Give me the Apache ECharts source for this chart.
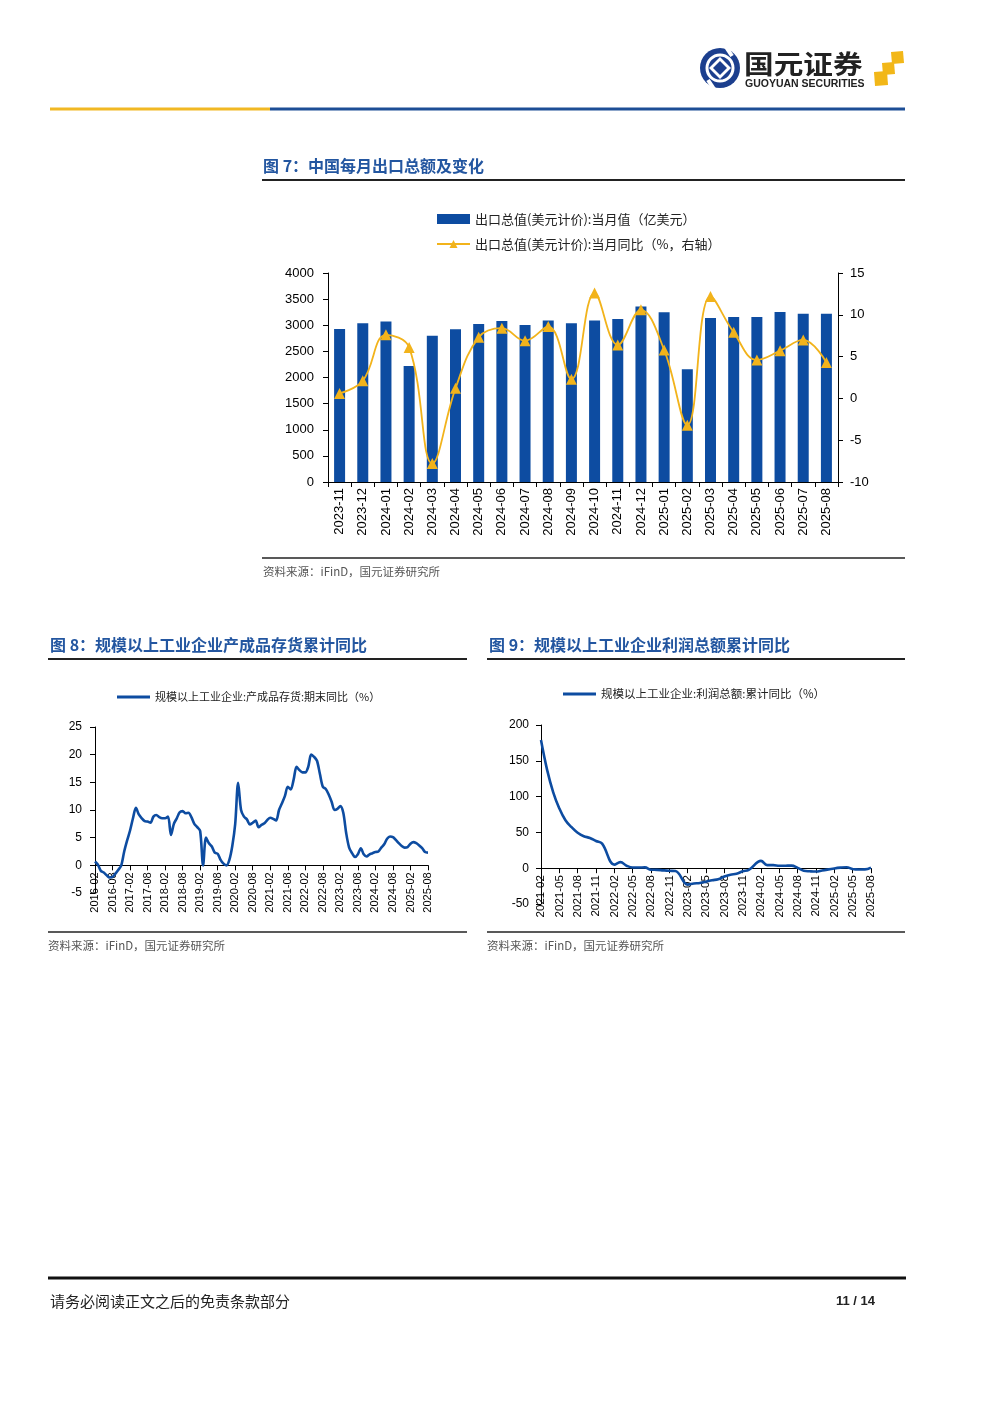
<!DOCTYPE html>
<html>
<head>
<meta charset="utf-8">
<script src="https://cdn.jsdelivr.net/npm/echarts@6.0.0/dist/echarts.min.js"></script>
<style>
html,body{margin:0;padding:0;background:#fff;}
#c{width:1000px;height:1414px;}
</style>
</head>
<body>
<div id="c"></div>
<script>
// ---------- Figure 7 data ----------
const cats7 = ['2023-11','2023-12','2024-01','2024-02','2024-03','2024-04','2024-05','2024-06','2024-07','2024-08','2024-09','2024-10','2024-11','2024-12','2025-01','2025-02','2025-03','2025-04','2025-05','2025-06','2025-07','2025-08'];
const exportValue = [2930,3040,3070,2220,2800,2925,3025,3080,3005,3090,3040,3092,3120,3360,3250,2158,3137,3156,3160,3252,3220,3220];
const exportYoY = [0.6,2.1,7.6,6.1,-7.8,1.2,7.3,8.4,6.9,8.6,2.3,12.6,6.4,10.6,5.8,-3.2,12.2,7.9,4.6,5.7,7.0,4.3];
const ticks7Left = [0,500,1000,1500,2000,2500,3000,3500,4000];
const ticks7Right = [-10,-5,0,5,10,15];

// ---------- Figure 8 data ----------
function monthRange(start, end){
  const out = [];
  let [y, m] = start.split('-').map(Number);
  const [ey, em] = end.split('-').map(Number);
  while (y < ey || (y === ey && m <= em)) {
    out.push(y + '-' + String(m).padStart(2,'0'));
    m++; if (m > 12) { m = 1; y++; }
  }
  return out;
}
const cats8 = monthRange('2016-02','2025-08');
const inventoryYoY = [
  0.7,0.1,-1.0,-1.3,-1.8,-2.2,-2.1,-1.5,-0.8,0.0,2.5,4.5,
  6.3,8.5,10.4,9.2,8.5,8.0,7.9,7.7,8.8,9.1,8.7,8.5,
  8.5,8.8,5.5,7.5,8.5,9.6,9.8,9.4,9.5,8.7,7.5,6.9,
  6.2,0.0,5.0,4.0,3.4,2.3,2.1,1.0,0.3,0.0,1.0,3.5,
  7.5,14.9,10.0,8.8,8.3,7.4,7.7,8.1,6.9,7.3,7.6,8.2,
  8.6,8.4,8.1,10.0,11.2,12.5,14.2,13.7,15.5,17.8,17.2,16.8,
  16.8,17.8,20.0,19.6,18.9,16.5,14.2,13.8,12.8,11.5,10.0,10.2,
  10.7,9.5,5.8,3.2,2.2,1.5,2.0,3.1,2.0,1.6,2.0,2.2,
  2.4,2.5,3.2,3.8,4.8,5.2,5.1,4.6,4.0,3.5,3.2,3.3,
  3.9,4.2,4.0,3.6,3.1,2.4,2.3
];
const ticks8 = [-5,0,5,10,15,20,25];

// ---------- Figure 9 data ----------
const cats9 = monthRange('2021-02','2025-08');
const profitYoY = [
  178.9,137.3,106.0,83.4,66.9,57.3,49.5,44.7,42.2,38.0,34.3,
  null,5.0,8.5,3.5,1.0,1.0,1.1,-2.1,-2.3,-3.0,-3.6,-4.0,
  null,-22.9,-21.4,-20.6,-18.8,-16.8,-15.5,-11.7,-9.0,-7.8,-4.4,-2.3,
  null,10.2,4.3,4.3,3.4,3.5,3.6,0.5,-3.5,-4.3,-4.7,-3.3,
  null,-0.3,0.8,1.4,-1.1,-1.8,-1.7,0.9
];
const ticks9 = [-50,0,50,100,150,200];

const BLUE = '#0d4ca1';
const GOLD = '#f2b31b';
const TITLE = '#2356a0';
const CJK = '"Noto Sans CJK SC", "Noto Sans", sans-serif';
const NUM = '"Liberation Sans", Arial, sans-serif';

// grid layouts
const G7 = {left:328, top:273, width:510, height:209};
const G8 = {left:95, top:727, width:333, height:166};
const G9 = {left:541, top:725, width:330, height:179};
// distance from grid bottom up to the zero line (so the category axis sits on zero)
const zeroOffset8 = G8.height * (0 - ticks8[0]) / (ticks8[ticks8.length-1] - ticks8[0]);
const zeroOffset9 = G9.height * (0 - ticks9[0]) / (ticks9[ticks9.length-1] - ticks9[0]);

function axisCommon(){
  return {
    axisLine:{show:true,lineStyle:{color:'#000',width:1}},
    axisTick:{show:true,length:5,lineStyle:{color:'#000'}},
    splitLine:{show:false}
  };
}
const plain = v => String(v);

const chart = echarts.init(document.getElementById('c'), null, {renderer:'canvas'});

const graphic = [
  // header lines
  {type:'line', shape:{x1:50,y1:109,x2:270,y2:109}, style:{stroke:'#f1b823',lineWidth:3}},
  {type:'line', shape:{x1:270,y1:109,x2:905,y2:109}, style:{stroke:'#1d4e96',lineWidth:3}},
  // logo icon
  {type:'circle', shape:{cx:720,cy:68,r:20}, style:{fill:'#1c3f8e'}},
  {type:'circle', shape:{cx:720,cy:68,r:13}, style:{fill:'none',stroke:'#fff',lineWidth:3}},
  {type:'line', shape:{x1:726,y1:47,x2:732,y2:56}, style:{stroke:'#fff',lineWidth:4}},
  {type:'line', shape:{x1:708,y1:80,x2:714,y2:89}, style:{stroke:'#fff',lineWidth:4}},
  {type:'polygon', shape:{points:[[720,57],[731,68],[720,79],[709,68]]}, style:{fill:'#fff'}},
  {type:'polygon', shape:{points:[[720,61],[727,68],[720,75],[713,68]]}, style:{fill:'#1c3f8e'}},
  {type:'text', x:744, y:64, scaleX:1.14, style:{text:'国元证券', font:'bold 26px '+CJK, fill:'#222', verticalAlign:'middle'}},
  {type:'text', x:745, y:84, style:{text:'GUOYUAN SECURITIES', font:'bold 10.5px '+NUM, fill:'#222', verticalAlign:'middle'}},
  {type:'polygon', shape:{points:[[891,52],[903,51],[904,63],[892,64]]}, style:{fill:'#f2b718'}},
  {type:'polygon', shape:{points:[[882,63],[894,62],[895,74],[883,75]]}, style:{fill:'#f2b718'}},
  {type:'polygon', shape:{points:[[874,72],[887,71],[888,85],[875,86]]}, style:{fill:'#f2b718'}},

  // Figure 7
  {type:'text', x:263, y:166, style:{text:'图 7：中国每月出口总额及变化', font:'bold 16px '+CJK, fill:TITLE, verticalAlign:'middle'}},
  {type:'line', shape:{x1:262,y1:180,x2:905,y2:180}, style:{stroke:'#222',lineWidth:2}},
  {type:'line', shape:{x1:262,y1:558,x2:905,y2:558}, style:{stroke:'#222',lineWidth:1.5}},
  {type:'text', x:263, y:572, style:{text:'资料来源：iFinD，国元证券研究所', font:'11.5px '+CJK, fill:'#555', verticalAlign:'middle'}},

  // Figure 8
  {type:'text', x:50, y:645, style:{text:'图 8：规模以上工业企业产成品存货累计同比', font:'bold 16px '+CJK, fill:TITLE, verticalAlign:'middle'}},
  {type:'line', shape:{x1:48,y1:659,x2:467,y2:659}, style:{stroke:'#222',lineWidth:2}},
  {type:'line', shape:{x1:48,y1:932,x2:467,y2:932}, style:{stroke:'#222',lineWidth:1.5}},
  {type:'text', x:48, y:946, style:{text:'资料来源：iFinD，国元证券研究所', font:'11.5px '+CJK, fill:'#555', verticalAlign:'middle'}},

  // Figure 9
  {type:'text', x:489, y:645, style:{text:'图 9：规模以上工业企业利润总额累计同比', font:'bold 16px '+CJK, fill:TITLE, verticalAlign:'middle'}},
  {type:'line', shape:{x1:487,y1:659,x2:905,y2:659}, style:{stroke:'#222',lineWidth:2}},
  {type:'line', shape:{x1:487,y1:932,x2:905,y2:932}, style:{stroke:'#222',lineWidth:1.5}},
  {type:'text', x:487, y:946, style:{text:'资料来源：iFinD，国元证券研究所', font:'11.5px '+CJK, fill:'#555', verticalAlign:'middle'}},

  // footer
  {type:'line', shape:{x1:48,y1:1278,x2:906,y2:1278}, style:{stroke:'#111',lineWidth:3}},
  {type:'text', x:50, y:1301, style:{text:'请务必阅读正文之后的免责条款部分', font:'15px '+CJK, fill:'#222', verticalAlign:'middle'}},
  {type:'text', x:875, y:1301, style:{text:'11 / 14', font:'bold 13px '+NUM, fill:'#222', verticalAlign:'middle', align:'right'}}
];

const option = {
  animation:false,
  backgroundColor:'#fff',
  graphic: graphic,
  legend:[
    {
      orient:'vertical', left:436, top:212, padding:0, itemGap:11,
      itemWidth:33, itemHeight:10,
      data:[
        {name:'出口总值(美元计价):当月值（亿美元）', icon:'rect'},
        {name:'出口总值(美元计价):当月同比（%，右轴）'}
      ],
      textStyle:{fontSize:13, fontFamily:CJK, color:'#222', lineHeight:14}
    },
    {
      left:117, top:690, padding:0, itemWidth:33, itemHeight:3,
      data:[{name:'规模以上工业企业:产成品存货:期末同比（%）', icon:'rect'}],
      textStyle:{fontSize:11, fontFamily:CJK, color:'#222', lineHeight:14}
    },
    {
      left:563, top:687, padding:0, itemWidth:33, itemHeight:3,
      data:[{name:'规模以上工业企业:利润总额:累计同比（%）', icon:'rect'}],
      textStyle:{fontSize:11.5, fontFamily:CJK, color:'#222', lineHeight:14}
    }
  ],
  grid:[G7, G8, G9],
  xAxis:[
    Object.assign(axisCommon(), {
      gridIndex:0, type:'category', data:cats7,
      axisLabel:{rotate:90, margin:6, fontSize:13, color:'#000', fontFamily:NUM, interval:0}
    }),
    Object.assign(axisCommon(), {
      gridIndex:1, type:'category', data:cats8, boundaryGap:false,
      offset:-zeroOffset8,
      axisLine:{show:true, onZero:false, lineStyle:{color:'#000',width:1}},
      axisTick:{show:true, length:5, interval:5, lineStyle:{color:'#000'}},
      axisLabel:{rotate:90, margin:7, fontSize:11, color:'#000', fontFamily:NUM, interval:5}
    }),
    Object.assign(axisCommon(), {
      gridIndex:2, type:'category', data:cats9, boundaryGap:false,
      offset:-zeroOffset9,
      axisLine:{show:true, onZero:false, lineStyle:{color:'#000',width:1}},
      axisTick:{show:true, length:5, interval:2, lineStyle:{color:'#000'}},
      axisLabel:{rotate:90, margin:7, fontSize:11.5, color:'#000', fontFamily:NUM, interval:2}
    })
  ],
  yAxis:[
    Object.assign(axisCommon(), {
      gridIndex:0, type:'value', position:'left',
      min:ticks7Left[0], max:ticks7Left[ticks7Left.length-1], interval:500,
      axisLabel:{margin:14, fontSize:13, color:'#000', fontFamily:NUM, formatter:plain}
    }),
    Object.assign(axisCommon(), {
      gridIndex:0, type:'value', position:'right',
      min:ticks7Right[0], max:ticks7Right[ticks7Right.length-1], interval:5,
      axisLabel:{margin:12, fontSize:13, color:'#000', fontFamily:NUM, formatter:plain}
    }),
    Object.assign(axisCommon(), {
      gridIndex:1, type:'value', min:ticks8[0], max:ticks8[ticks8.length-1], interval:5,
      axisLabel:{margin:13, fontSize:12, color:'#000', fontFamily:NUM, formatter:plain}
    }),
    Object.assign(axisCommon(), {
      gridIndex:2, type:'value', min:ticks9[0], max:ticks9[ticks9.length-1], interval:50,
      axisLabel:{margin:12, fontSize:12, color:'#000', fontFamily:NUM, formatter:plain}
    })
  ],
  series:[
    {
      type:'bar', name:'出口总值(美元计价):当月值（亿美元）',
      xAxisIndex:0, yAxisIndex:0, data:exportValue, barWidth:11,
      itemStyle:{color:BLUE}
    },
    {
      type:'line', name:'出口总值(美元计价):当月同比（%，右轴）',
      xAxisIndex:0, yAxisIndex:1, data:exportYoY, smooth:0.4,
      symbol:'triangle', symbolSize:11,
      lineStyle:{color:GOLD, width:1.8}, itemStyle:{color:GOLD}, z:3
    },
    {
      type:'line', name:'规模以上工业企业:产成品存货:期末同比（%）',
      xAxisIndex:1, yAxisIndex:2, data:inventoryYoY, smooth:0.3,
      symbol:'none', lineStyle:{color:BLUE, width:2.6}, itemStyle:{color:BLUE}
    },
    {
      type:'line', name:'规模以上工业企业:利润总额:累计同比（%）',
      xAxisIndex:2, yAxisIndex:3, data:profitYoY, smooth:0.4, connectNulls:true,
      symbol:'none', lineStyle:{color:BLUE, width:2.6}, itemStyle:{color:BLUE}
    }
  ]
};
chart.setOption(option);
</script>
</body>
</html>
